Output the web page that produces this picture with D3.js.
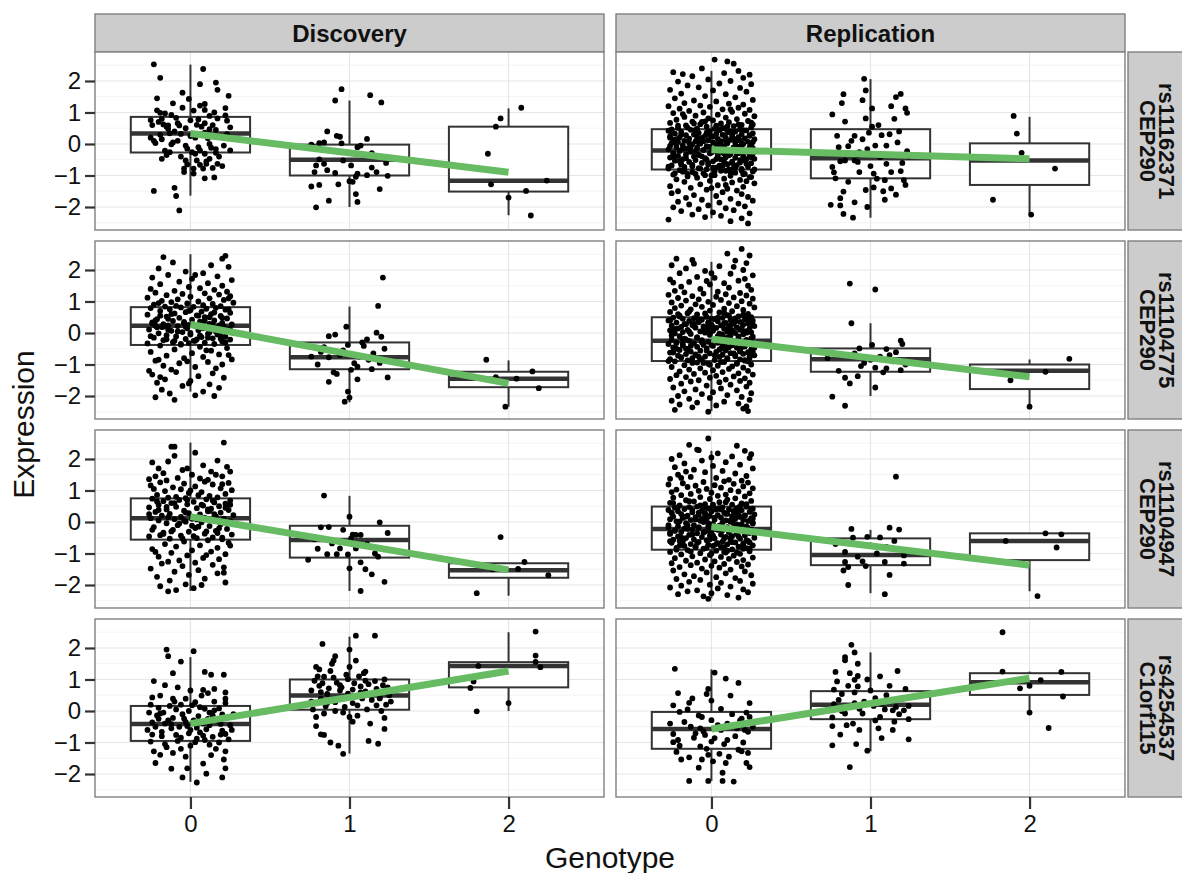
<!DOCTYPE html>
<html>
<head>
<meta charset="utf-8">
<script src="https://cdn.jsdelivr.net/npm/d3@7"></script>
<style>
  html, body { margin: 0; padding: 0; background: #fff; }
  svg { display: block; font-family: "Liberation Sans", Arial, Helvetica, sans-serif; }
</style>
</head>
<body>
<svg id="chart" width="1182" height="873"></svg>
<script>
// ----------
// data
var studies = ['Discovery', 'Replication'];
var snps = [['rs11162371', 'CEP290'], ['rs11104775', 'CEP290'], ['rs11104947', 'CEP290'], ['rs4254537', 'C1orf115']];
var genotypes = [0, 1, 2];
var yTicks = [-2, -1, 0, 1, 2];
var yMinor = [-2.5, -1.5, -0.5, 0.5, 1.5, 2.5];

// [lower whisker, q1, median, q3, upper whisker] for genotype 0, 1, 2, one row per snp
var boxDiscovery = [
  [[-1.64, -0.27, 0.33, 0.86, 2.52], [-2.0, -1.0, -0.5, -0.02, 1.38], [-2.26, -1.51, -1.17, 0.55, 1.13]],
  [[-1.86, -0.38, 0.23, 0.82, 2.5], [-2.2, -1.15, -0.77, -0.3, 0.84], [-2.34, -1.72, -1.45, -1.23, -0.87]],
  [[-2.19, -0.56, 0.12, 0.75, 2.52], [-2.19, -1.13, -0.57, -0.12, 0.83], [-2.34, -1.77, -1.53, -1.31, -1.31]],
  [[-2.25, -0.95, -0.41, 0.16, 1.71], [-1.35, 0.04, 0.49, 1.0, 2.36], [0.0, 0.75, 1.43, 1.55, 2.5]]
];
var boxReplication = [
  [[-2.36, -0.81, -0.21, 0.47, 2.32], [-2.34, -1.09, -0.45, 0.47, 2.06], [-2.22, -1.3, -0.52, 0.02, 0.86]],
  [[-2.48, -0.89, -0.25, 0.5, 2.26], [-2.0, -1.23, -0.83, -0.49, 0.31], [-2.34, -1.78, -1.2, -1.0, -0.84]],
  [[-2.42, -0.88, -0.22, 0.49, 2.26], [-2.26, -1.37, -1.05, -0.52, -0.25], [-2.2, -1.21, -0.6, -0.36, -0.36]],
  [[-2.22, -1.2, -0.57, -0.03, 1.32], [-1.28, -0.26, 0.2, 0.63, 1.86], [-0.05, 0.51, 0.91, 1.2, 1.25]]
];

// fitted expression at genotype 0 and genotype 2
var fitDiscovery = [[0.33, -0.9], [0.27, -1.6], [0.17, -1.52], [-0.4, 1.27]];
var fitReplication = [[-0.18, -0.47], [-0.19, -1.39], [-0.15, -1.37], [-0.57, 1.04]];

// jittered samples: flat pairs of (x offset, expression), both in hundredths
var ptsD1_0 = [-23,253, 8,238, -19,210, 16,195, 6,190, 17,172, 24,153, -5,163, -21,145, -1,143, -11,129, 6,122, 9,127, 22,114, -21,107, -19,99, -16,97, 2,106, 9,108, -12,92, -25,76, -18,80, -9,83, 12,89, 22,91, 5,78, 17,81, 23,74, 9,66, -14,59, -15,55, -7,59, 4,61, 25,53, 12,47, 16,45, -19,29, -13,34, -6,32, 9,36, 23,31, -23,10, -22,3, -12,-1, -3,-5, 5,-10, 12,0, 16,-16, -16,-21, -13,-26, 1,-26, 3,-31, 9,-31, -18,-47, -3,-52, 4,-52, 12,-47, 16,-28, -2,-65, 6,-66, 10,-63, 17,-63, -4,-78, 2,-78, 8,-78, 14,-76, -4,-89, 2,-94, 9,-109, 15,-106, -23,-149, -10,-139, -9,-165, -7,-211, -20,70, -17,62, -14,48, -10,40, -8,66, -3,50, 0,75, 3,20, 7,55, 11,18, 14,60, 19,22, 21,-5, -25,20, -18,15, -8,10, -2,-15, 6,-20, 13,-12, 18,-40, -15,-35, -6,-40, 10,-55, 20,-70, -11,5, 0,25, 15,100, -5,115, 25,-20, -24,60];
var ptsD1_1 = [-5,174, -9,138, 13,155, 20,132, -14,40, -8,26, -6,23, 11,16, -24,-2, -19,3, -16,5, -5,2, 5,-10, 7,-5, 14,-29, -19,-49, -16,-63, -21,-68, -14,-83, -22,-89, -9,-92, 5,-94, 14,-75, 23,-60, 24,-101, -7,-128, 0,-118, 2,-120, 4,-104, 11,-99, -24,-135, 19,-143, 4,-159, 5,-184, -13,-180, -21,-201, -4,-52, 9,-36, 1,-68, 17,-89, -19,-130];
var ptsD1_2 = [-5,81, -8,55, 8,115, -13,-31, -11,-128, 24,-116, 11,-149, 0,-170, 14,-227];

var ptsR1_0 = [2,268, 10,262, 14,255, -6,240, 17,232, -24,228, -18,222, 8,225, 24,220, -12,215, 20,210, -2,205, -21,198, 12,200, 5,192, 25,190, -15,186, -8,180, 18,178, -26,172, 1,170, 22,166, -19,160, 9,158, -4,152, 15,148, -23,145, 26,140, -11,138, 3,135, -17,130, 11,128, 20,125, -7,122, -27,120,
  -1,118, 17,115, -20,112, 7,110, 24,108, -14,105, 13,102, -5,100, -24,98, 21,96, 4,93, -10,90, 27,88, -17,86, 9,84, -2,81, 16,79, -22,77, 1,75, 23,73, -12,71, 11,69, -26,67, 6,65, -7,63, 19,61, -16,59, 14,57, -3,55, 25,53, -21,51, 8,50, -9,49, 2,48, 18,47, -25,46, 12,110, -18,95, 26,62, -4,72,
  -13,45, 5,44, 22,43, -27,42, -1,40, 15,39, -19,38, 10,37, -8,35, 26,34, -23,33, 3,32, 19,31, -11,30, 7,29, -16,28, 24,27, -4,26, 13,25, -26,24, 0,23, 17,22, -20,21, 9,20, -6,19, 21,18, -14,17, 4,16, 27,15, -24,14, 12,13, -2,12, 18,11, -17,10, 6,9, -10,8, 23,7, -21,6, 1,5, 15,4, -25,3, 10,2, -7,1, 20,0, -12,-1, 3,-2, 25,-3, -18,-4, 8,-6, -3,-7, 16,-8, -22,-10, 14,-11, -9,-12, 26,-13, -15,-14, 5,-15, -27,-17, 19,-18, -5,-19, 11,-20, -20,-22, 2,-23, 22,-24, -13,-25, 7,-27, -24,-28, 17,-29, -1,-30, 12,-32, -16,-33, 24,-34, -8,-35, 4,-37, -21,-38, 20,-39, -11,-40, 9,-42, -26,-43, 15,-44, -4,-45, 27,-47, -18,-48, 6,-49, -10,-51, 21,-52, -23,-53, 1,-55, 13,-56, -14,-57, 18,-59, -6,-60, 25,-61, -19,-63, 10,-64, -2,-65, 16,-67, -25,-68, 7,-69, -12,-71, 23,-72, -17,-73, 3,-75, 14,-76, -8,-77, -27,-78, 19,-79, -3,-80, 11,-81,
  -20,-83, 6,-85, 26,-87, -12,-89, 15,-91, -5,-93, 21,-95, -24,-97, 2,-99, 12,-101, -15,-103, 24,-105, -9,-107, 8,-110, -22,-112, 18,-114, -1,-117, -17,-120, 13,-122, 27,-125, -7,-128, 4,-131, -26,-134, 20,-136, -13,-139, 10,-142, -3,-145, 16,-148, -21,-150, 25,-105, -10,-95, 9,-130, -18,-88, 22,-118, 0,-140,
  7,-153, -25,-156, 19,-159, -11,-162, 3,-165, 23,-168, -16,-171, 12,-174, -6,-177, 26,-180, -21,-183, 5,-186, 17,-189, -14,-192, -2,-195, 21,-198, -24,-201, 9,-204, -8,-207, 14,-210, -19,-213, 1,-217, 24,-220, -12,-224, 6,-228, -4,-232, 19,-236, -27,-240, 12,-245, 23,-252,
  -15,52, 6,48, 20,44, -25,40, -3,36, 13,33, -19,30, 24,27, 1,24, -9,21, 17,18, -22,15, 9,12, -5,9, 26,6, -14,3, 4,0, 19,-3, -26,-6, -1,-9, 14,-12, -18,-15, 7,-18, 23,-21, -10,-24, 0,-27, 16,-30, -24,-33, 11,-36, -6,-39, 25,-42, -16,-45, 3,-48, 18,-51, -20,-54, 8,-57, -2,-60, 22,-63, -12,-66, 5,-69, -27,-72, 15,-75, -7,-78, 27,-81, -17,-84, 2,-87, 12,-90, -23,-93, 20,-96, -4,-99, 10,56, -21,58, 17,62, -11,65, 25,68, -6,70, 3,58, -24,-40, 22,-48, -13,-8, 8,-30, -8,5, 15,15, -19,-65, 1,-75, 24,-10, -26,20, 12,40, -3,-50, 19,-85, -15,-95, 6,-5, -10,45, 26,-30, -1,30, 13,-60, -22,0, 9,-85, 0,-100];
var ptsR1_1 = [-4,207, -17,158, -3,170, -5,139, 1,113, 16,149, 19,159, 22,113, 23,99, -24,94, -16,71, -3,81, 1,55, 7,28, 12,31, 17,5, -10,26, -14,-7, -2,-16, 3,-5, -16,-52, -10,-52, -8,-57, -19,-55, 6,-42, 14,-36, 23,-23, -24,-73, -22,-109, -7,-89, 2,-94, 13,-89, 19,-86, 21,-115, 9,-115, -17,-151, -3,-146, 2,-138, 13,-141, 16,-161, -25,-193, -19,-195, 9,-177, -11,-234, -17,-222, -19,-172, -1,36, -7,-26, 10,-63, -21,26, -12,10, 5,60, 15,80, -8,-35, 20,-60, -20,-10, 0,-70, 10,-5, -14,-120, 4,-110, 24,-40, -5,15, 18,40, -23,-90, 8,-150, -10,-185, 22,-130, -2,-200, 13,120, -18,130];
var ptsR1_2 = [-10,89, -8,33, -5,-28, 16,-78, -23,-177, 1,-224];

var ptsD2_0 = [-17,241, 22,245, 20,236, -11,224, 13,215, -20,205, 24,210, -3,195, 8,190, -14,184, 17,180, -24,176, 1,172, 26,168, -7,163, 11,158, -19,155, 20,150, -1,146, 6,142, -25,140, 15,137, -10,134, 23,131, 3,184,
  -22,128, 9,126, -5,124, 18,122, -15,120, 25,117, 0,115, -27,112, 12,110, -8,107, 21,105, -18,102, 5,100, -12,98, 27,96, -2,94, 14,92, -23,90, 8,88, -9,86, 19,85, -16,84, 2,83, 24,110, -20,95,
  -6,81, 16,80, -25,79, 10,77, -13,75, 22,74, 0,72, -19,70, 7,68, -3,66, 25,64, -10,62, 13,60, -27,58, 4,56, 19,54, -15,52, 9,50, -7,48, 23,46, -21,44, 1,42, 15,40, -11,38, 6,36, -24,34, 20,32, -4,31, 12,29, -17,28, 26,27, -1,26, 8,25, -14,24, 18,24, -22,23, 3,23,
  -8,22, 21,21, -18,19, 10,17, -2,15, 24,13, -26,11, 5,9, -12,7, 16,5, -5,3, 27,1, -20,-1, 11,-3, 0,-5, -15,-7, 19,-9, -9,-11, 7,-13, -23,-15, 14,-17, -3,-19, 25,-21, -17,-23, 2,-25, 20,-27, -11,-29, 9,-31, -27,-33, 15,-35, -6,-37, 22,-12, -21,18, 4,-20, -14,10, 12,2, -1,-32,
  -19,-40, 6,-44, 23,-48, -10,-52, 13,-56, -25,-60, 1,-64, 18,-68, -15,-72, 8,-76, -4,-80, 26,-84, -22,-88, 11,-92, -7,-96, 20,-100, -17,-104, 3,-108, 16,-112, -12,-116, -26,-120, 24,-70, -2,-90, 10,-55, -20,-85,
  -9,-124, 14,-128, -24,-132, 5,-137, 21,-142, -16,-147, 0,-152, -21,-158, 12,-163, -5,-168, 18,-174, -18,-180, 8,-186, -13,-192, 3,-198, -22,-204, -10,-212, 15,-200, -1,-160, -19,-140,
  -12,60, 5,55, 20,48, -22,40, -4,35, 14,28, -17,20, 8,15, 25,10, -8,5, 0,0, 17,-5, -25,-10, 11,-15, -15,-20, 3,-25, 22,-30, -6,-35, 9,40, -19,55, 15,65, -1,70, 24,75, -10,-25, 6,-8, -24,30, 12,50, -3,20, 19,-18, -14,45];
var ptsD2_1 = [21,176, 18,86, -2,20, -13,-10, -9,-5, 17,1, 20,-12, -1,-38, 9,-41, 22,-50, -24,-75, -13,-77, 3,-96, 5,-107, 1,-117, -10,-125, 24,-141, -13,-155, 5,-147, -1,-186, 0,-205, -3,-218, -18,-60, -6,-70, 12,-85, 15,-65, -20,-100, 8,-30, -16,-45, 14,-115, 6,-75, -8,-130, 19,-95, -4,-55, 11,-20];
var ptsD2_2 = [-14,-85, 15,-122, 19,-175, -2,-234, 5,-145, -8,-140];

var ptsR2_0 = [19,267, 10,252, 24,246, -22,236, -12,232, 15,230, 22,222, -25,215, 5,212, -16,205, 20,200, -4,197, -20,190, 12,188, 26,183, -9,178, 2,175, -26,170, 17,166, -14,162, 8,158, -1,154, 23,150, -19,147, 11,144, -7,140, 25,137, -23,134, 4,131, -11,220, 14,210, -24,160, 21,172, -3,165, 0,190,
  -17,129, 18,127, -5,125, 9,123, -27,121, 22,119, -12,117, 3,115, 14,113, -21,111, 26,109, -8,107, 6,105, -16,103, 19,101, -2,99, -25,97, 11,95, 24,93, -10,91, 1,89, -19,87, 16,85, -6,83, 27,81, -23,79, 8,77, -13,75, 20,73, -1,71, 13,69, -26,67, 5,65, -15,63, 23,61, -9,59, 10,57, -20,55, 17,53, -3,51,
  25,50, -24,49, 7,48, -11,47, 15,46, -18,45, 2,44, 21,43, -6,42, 12,41, -27,40, 26,39, -14,38, 4,37, 18,35, -8,34, -22,33, 9,32, 23,31, -2,30, 14,29, -16,28, 0,27, 20,26, -12,25, 6,24, -25,23, 27,22, -5,21, 11,20, -19,19, 16,18, -10,17, 3,16, 24,15, -21,14, 8,13, -3,12, 19,11, -15,10, 13,9, -26,8, 1,7, 22,6, -7,5, 10,4, -18,3, 25,2, -4,1, 15,0, -23,-1, 5,-2, -13,-3, 20,-4, -1,-6, 12,-8, -20,-10, 26,-12, -9,-14, 7,-16,
  -17,-18, 17,-19, 2,-20, -25,-21, 22,-22, -6,-23, 10,-24, -14,-25, 24,-26, -2,-28, 14,-29, -22,-30, 4,-31, 19,-32, -11,-33, -27,-35, 8,-36, 26,-37, -5,-38, 13,-39, -18,-40, 1,-41, 21,-43, -9,-44, 11,-45, -24,-46, 16,-47, -3,-49, 6,-50, -15,-51, 25,-52, -20,-54, 9,-55, -7,-56, 18,-57, -13,-59, 3,-60, 23,-61, -26,-62, 12,-64, -1,-65, 20,-66, -16,-67, 7,-69, -10,-70, 27,-71, -21,-72, 15,-74, -4,-75, 5,-76, -19,-78, 24,-79, -12,-80, 10,-82, -26,-83, 18,-84, -6,-85, 2,-86, -15,-87, 21,-88,
  -23,-90, 8,-92, -9,-94, 16,-96, -2,-98, 25,-100, -17,-102, 4,-104, 13,-106, -25,-108, 20,-110, -7,-112, 11,-114, -14,-116, 1,-118, 23,-120, -20,-122, 7,-124, -4,-126, 17,-128, -11,-130, 26,-132, -22,-134, 3,-136, 14,-138, -16,-140, -1,-142, 21,-144, -26,-146, 9,-148, -8,-150, 18,-152, -13,-154, 5,-156, 24,-158,
  -19,-161, 12,-164, -3,-167, 22,-170, -24,-173, 6,-176, -10,-179, 16,-182, -17,-185, 1,-188, 25,-191, -6,-194, 10,-197, -21,-200, 19,-203, -1,-206, -14,-209, 24,-212, -25,-215, 8,-218, -9,-221, 17,-224, -20,-227, 3,-230, 22,-233, -12,-236, 20,-240, -23,-244, 23,-248, -2,-250,
  11,55, -20,52, 4,49, 23,46, -8,43, -26,40, 15,37, -2,34, 8,31, -17,28, 26,25, -11,22, 1,19, 19,16, -23,13, -5,10, 12,7, -14,4, 22,1, -1,-2, 7,-5, -25,-8, 17,-11, -9,-14, 25,-17, -18,-20, 3,-23, 13,-26, -6,-29, -22,-32, 20,-35, 0,-38, -13,-41, 9,-44, 27,-47, -16,-50, 5,-53, -3,-56, 18,-59, -24,-62, 14,-65, -10,-68, 2,-71, 24,-74, -19,-77, 10,-80, -7,-83, 21,-86, -27,-89, 6,-92, -12,-95, 16,-98, -1,-101, -21,60, 8,64, -14,68, 20,58, -4,62, 26,-60, -16,-20, 4,-10, 12,25, -8,-75, 18,10, -22,-50, 0,45, 23,-90, -11,30, 7,-40, -25,5, 15,-70, -5,-95, 25,40, -18,-35, 10,-15, -2,15, 19,-45];
var ptsR2_1 = [-13,157, 3,138, -12,31, 19,-24, 20,-35, 16,-61, 1,-38, -7,-49, 10,-51, 3,-110, 10,-112, 19,-118, 8,-125, -16,-142, -8,-137, -13,-160, 3,-173, -24,-202, -16,-231, -27,-80, 6,-75, 14,-90, -4,-95, -10,-65, 22,-100, -20,-120, 12,-70, 0,-85, -6,-105];
var ptsR2_2 = [25,-82, 10,-123, 0,-234, -12,-150];

var ptsD3_0 = [21,252, -12,239, -10,239, -24,189, -14,192, -10,210, 3,220, 17,195, 8,180, -20,170, 23,175, -5,165, 13,160, -17,155, 1,150, 20,145, -8,140, -26,136, 11,134, -2,170, 16,150, -22,145, 25,160, 6,138, -15,132,
  9,128, -19,126, 24,124, -4,122, 14,119, -25,116, 3,113, -11,110, 19,107, -6,104, 26,101, -16,98, 7,95, -1,92, 22,89, -21,86, 12,83, -9,80, 17,78, -14,77, 0,100, -23,105, 5,85, 20,120, -3,76,
  -24,74, 10,72, -7,70, 25,68, -17,66, 2,64, 15,62, -12,60, 22,58, -2,56, -20,54, 8,52, 18,50, -9,48, -26,46, 4,44, 13,42, -15,40, 24,38, -4,36, 11,34, -22,32, 19,30, -1,28, -13,26, 6,24, 27,22, -18,20, 16,18, -6,16, 9,14, -25,12, 21,11, 1,10, -10,9, 14,7, -20,5, 25,3, -3,1, 7,-1, -15,-4, 19,-7, -8,-10, 12,-13, -23,-16, 3,-19, 23,-22, -11,-25, 16,-28, -1,-31, -17,-34, 9,-37, 26,-40, -6,-43, -26,-46, 14,-49, 4,-51, -13,-53, 20,-55, -19,-42,
  11,-58, -4,-62, 24,-66, -16,-70, 6,-74, -9,-78, 17,-82, -24,-86, 1,-90, 13,-94, -12,-98, 22,-102, -2,-106, -20,-110, 8,-114, 18,-118, -7,-122, -14,-126, 3,-129, 25,-75, -22,-95, 10,-105,
  -18,-132, 14,-136, -5,-140, 21,-144, -25,-148, 5,-153, -10,-158, 17,-163, -1,-168, -21,-174, 9,-180, -13,-186, 22,-192, -3,-198, -19,-204, 2,-210, -9,-216, -14,-220, 7,-200, 21,-161,
  -10,60, 7,55, 22,45, -20,38, -3,30, 15,25, -14,15, 4,8, 24,0, -7,-5, 1,-12, 18,-20, -24,-25, 10,-30, -17,-38, 2,-45, 20,-50, -5,-52, 11,40, -21,65, 14,68, -2,70, 25,55, -12,-30, 5,-15, -26,25, 12,35, -4,5, 17,-35, -15,48];
var ptsD3_1 = [-16,84, 0,17, -18,-17, -13,-16, 19,-1, 4,-41, 7,-41, 1,-52, -11,-68, -6,-84, 4,-84, 16,-100, 18,-110, -26,-120, -14,-102, -8,-102, 0,-147, 7,-128, 14,-166, 22,-190, 7,-219, -1,-103, 2,-40, -22,-55, 11,-70, -4,-25, 24,-35, -20,-85, 10,-150];
var ptsD3_2 = [-5,-48, 10,-127, 6,-149, 25,-169, -20,-226, -10,-150];

var ptsR3_0 = [-2,265, -14,245, 16,242, -9,230, 21,226, 4,218, -20,212, 13,208, -25,200, 24,203, -6,195, 9,190, -17,186, 18,182, 1,178, -23,174, 26,170, -11,166, 7,162, -4,158, 15,154, -21,150, 22,146, -13,143, 3,140, -26,137, 11,134, 19,131, -8,228, -16,160, 25,215, 0,205, -19,140,
  8,129, -5,127, 23,125, -18,123, 14,121, -27,119, 2,117, -10,115, 20,113, -15,111, 6,109, 26,107, -3,105, -22,103, 12,101, -8,99, 17,97, -25,95, 0,93, 24,91, -13,89, 9,87, -19,85, 4,83, 21,81, -7,79, -24,77, 15,75, -1,73, 10,71, -16,69, 25,67, -11,65, 5,63, -26,61, 19,59, -4,57, 13,55, -20,53, 1,51,
  -9,49, 22,48, -14,47, 7,46, -23,45, 16,44, -2,43, 26,42, -17,41, 11,40, 3,39, -27,38, 19,37, -6,36, 14,35, -21,34, 0,33, 24,32, -12,31, 8,30, -25,29, 17,28, -4,27, 10,26, -19,25, 27,24, -8,23, 4,22, 21,21, -15,20, -1,19, 13,18, -24,17, 18,16, -10,15, 6,14, -18,13, 25,12, -3,11, 15,10, -26,9, 2,8, 20,7, -13,6, 9,5, -7,4, 23,3, -22,2, 12,1, -5,0, 26,-2, -16,-4, 1,-6, 16,-8, -11,-10,
  5,-12, -21,-13, 22,-14, -2,-15, 10,-16, -27,-17, 18,-18, -8,-19, 14,-20, -17,-21, 3,-22, 25,-24, -12,-25, 7,-26, -23,-27, 20,-28, -4,-30, 11,-31, -19,-32, 0,-33, 24,-35, -9,-36, 16,-37, -26,-38, 6,-40, -14,-41, 21,-42, -1,-43, 13,-45, -21,-46, 9,-47, -6,-48, 27,-50, -16,-51, 2,-52, 18,-53, -11,-55, -24,-56, 12,-57, -3,-58, 23,-60, -18,-61, 7,-62, -8,-63, 15,-65, -25,-66, 4,-67, 20,-68, -13,-70, 10,-71, -2,-72, 26,-74, -20,-75, 1,-76, 17,-78, -10,-79, 8,-80, -22,-82, 22,-83, -5,-85,
  13,-87, -15,-89, 3,-91, 24,-93, -26,-95, 9,-97, -7,-99, 18,-101, -19,-103, -1,-105, 14,-107, -12,-109, 6,-111, 26,-113, -23,-115, 11,-117, -4,-119, 20,-121, -16,-123, 2,-125, 16,-127, -9,-129, -25,-131, 8,-133, 23,-135, -13,-137, 0,-139, 19,-141, -20,-143, 5,-145, -6,-148, 12,-151,
  -24,-154, 21,-157, -3,-160, 9,-163, -17,-166, 25,-169, -11,-172, 3,-175, 15,-178, -22,-181, -7,-184, 18,-187, -14,-190, 6,-193, 26,-196, -1,-199, -19,-202, 12,-205, -26,-208, 4,-211, 20,-214, -9,-217, -15,-220, 23,-223, 0,-226, -21,-229, 10,-232, -5,-236, 17,-240, -2,-244,
  -7,53, 18,50, -21,47, 5,44, 25,41, -12,38, 0,35, 14,32, -25,29, 9,26, -4,23, 21,20, -16,17, 2,14, 26,11, -10,8, 12,5, -20,2, 7,-1, -2,-4, 19,-7, -27,-10, 15,-13, -8,-16, 23,-19, -15,-22, 4,-25, -23,-28, 11,-31, -5,-34, 27,-37, -12,-40, 1,-43, 17,-46, -19,-49, 8,-52, -1,-55, 22,-58, -26,-61, 13,-64, -9,-67, 3,-70, 20,-73, -17,-76, 6,-79, -3,-82, 24,-85, -22,-88, 10,-91, -13,-94, 16,-97, 0,-100, -24,60, 9,63, 22,57, -14,66, 3,-20, -6,10, 16,25, -20,-60, 26,-5, -10,-80, 6,40, -1,-30, 12,-50, -18,15, 20,-85, -26,-35, 1,55, 14,-5, -8,30, 24,-65, -15,-10, 8,-95, -4,45, 18,-25];
var ptsR3_1 = [16,144, -12,-22, 12,-18, 18,-24, 6,-49, -2,-47, -11,-50, 10,-79, 0,-74, -16,-95, -16,-127, -5,-125, 9,-127, 21,-132, 21,-106, -14,-143, -17,-154, 12,-168, -14,-200, 9,-229, -8,-110, 4,-100, -22,-70, 15,-60, -3,-140];
var ptsR3_2 = [10,-36, 20,-39, 17,-81, 5,-235, -15,-60];

var ptsD4_0 = [-15,195, 2,190, -14,174, -6,157, -11,120, 9,124, 13,115, 21,115, -23,95, -16,82, -8,75, 0,65, 8,67, 15,70, 22,59, -24,43, -19,49, -11,39, -3,39, 7,49, 11,57, 22,39, -13,16, -6,20, 1,18, 9,7, 15,2, -21,-14, -11,-22, -4,-24, 5,-16, 14,-14, 20,-11, -24,-36, -16,-40, -7,-50, 4,-53, 12,-45, 19,-41, -18,-66, -9,-76, -1,-71, 8,-78, 22,-73, -25,-97, -16,-105, -6,-120, 3,-99, 12,-107, -23,-128, -11,-133, 8,-167, 21,-154, 22,-128, -22,-165, -19,-139, -12,-183, -2,-182, 10,-199, -5,-211, 4,-227, 20,-211, 22,-182,
  -20,10, -17,-5, -9,5, -1,0, 6,12, 12,-5, 18,8, 24,-20, -26,-5, -14,-30, -3,-35, 2,-30, 8,-40, 17,-30, 25,-45, -22,-50, -12,-55, 0,-60, 10,-58, 20,-62, -18,-80, -6,-85, 4,-88, 14,-82, 24,-90, -24,-75, -8,-95, 9,-92, 18,-100, -15,-115, 0,-110, 16,-120, -3,-145, 13,-140, -20,-25, -5,-10, 22,25, -10,30, 3,28, 15,30, -25,20, 19,-75, -12,-42, 6,-68, 26,-60, -19,-8, 11,-25, -2,-48, 27,-10, -27,-60];
var ptsD4_1 = [-17,213, 4,239, 16,239, 0,195, -9,174, -10,160, -19,132, -12,127, -10,106, -16,109, -22,96, -19,80, -6,82, -1,101, 10,125, 10,96, 21,82, -24,65, -14,54, -6,65, 2,68, 7,59, 15,54, 19,42, -18,39, -9,28, -3,13, 5,18, 17,18, 23,20, -21,-19, -16,-8, 0,-19, 2,-34, 22,-22, -21,-48, -18,-74, -16,-76, -12,-100, -7,-110, -4,-136, 12,-95, 18,-104, 22,-57,
  -20,110, -8,90, 3,88, 12,85, 22,100, -24,30, -13,72, -3,45, 8,40, 17,70, -18,60, -5,75, 6,110, 14,35, 25,50, -11,150, 0,140, 9,120, -21,140, -6,40, 2,25, 11,5, 20,0, -15,15, -9,0, -1,55, 7,78, 16,95, 24,75, -23,5, 13,-40, -4,-5, 5,-15, 19,40, -14,25, -2,115, 10,62, -17,88, 26,30, 4,160];
var ptsD4_2 = [17,252, 17,176, 17,156, 20,139, -19,143, -22,94, -24,73, -20,-1, 0,25];

var ptsR4_0 = [-23,134, 2,122, 9,103, 17,89, -2,70, -21,57, -3,54, 12,49, -14,26, -24,18, 0,33, 6,7, 24,25, -8,-14, -6,-19, -20,-3, 0,-29, -13,-50, 19,-24, 24,-19, 10,-40, 6,-60, -7,-55, 21,-60, 23,-66, -21,-92, -24,-99, -7,-112, 0,-97, 10,-92, 17,-123, 19,-128, 23,-133, -19,-154, -14,-147, -6,-154, -2,-139, 5,-136, 9,-165, 22,-165, 24,-178, -2,-222, 7,-196, -14,-222, 7,-222, 14,-224, -24,-73, -10,-71, -4,-76, 2,-86, 16,-55,
  -17,-35, -11,-85, 4,-45, 13,-10, -26,-40, 20,-100, -3,-120, 11,-145, -22,-130, -8,-180, 15,-80, 26,-50, -15,5, 8,-105, -5,-65, 18,-30, -20,-110, 1,-160, 22,-5, -12,40];
var ptsR4_1 = [-12,210, -10,186, -16,171, -16,161, -8,150, -22,124, -13,120, -8,111, -10,99, 17,127, -21,94, -8,78, -23,68, -18,54, -10,59, 3,41, 2,16, 7,23, 16,13, 24,16, -23,22, -13,13, -7,7, 14,2, 21,2, -16,-8, -5,-8, 6,-19, 15,-34, 24,-26, -24,-48, -15,-45, -11,-40, 5,-55, 7,-86, -9,-105, -2,-126, -24,-109, -13,-178,
  -20,35, -4,30, 10,50, 20,40, -14,80, 0,65, 12,80, -24,-20, 3,-30, 18,-10, -7,-60, 9,5, -18,0, 22,70, -2,100, 14,-60, -10,25, 6,110, -19,-75, 24,-90];
var ptsR4_2 = [-17,250, -17,125, 7,98, 20,124, 21,46, -6,72, 0,80, 0,-5, 12,-54];

var pointsDiscovery = [[ptsD1_0, ptsD1_1, ptsD1_2], [ptsD2_0, ptsD2_1, ptsD2_2], [ptsD3_0, ptsD3_1, ptsD3_2], [ptsD4_0, ptsD4_1, ptsD4_2]];
var pointsReplication = [[ptsR1_0, ptsR1_1, ptsR1_2], [ptsR2_0, ptsR2_1, ptsR2_2], [ptsR3_0, ptsR3_1, ptsR3_2], [ptsR4_0, ptsR4_1, ptsR4_2]];

// ----------
var boxes = { Discovery: boxDiscovery, Replication: boxReplication };
var fits = { Discovery: fitDiscovery, Replication: fitReplication };
var points = { Discovery: pointsDiscovery, Replication: pointsReplication };

var svg = d3.select('#chart');
var panelLeft = [95, 616];
var panelTop = [52, 241, 430, 619];
var panelW = 509;
var panelH = 178;
var stripH = 38;
var fontFamily = '"Liberation Sans", Arial, Helvetica, sans-serif';

var x = d3.scaleLinear().domain([-0.6, 2.6]).range([0, panelW]);
var y = d3.scaleLinear().domain([-2.73, 2.92]).range([panelH, 0]);
var boxHalf = 0.375;

function minusFormat(d) {
  return d < 0 ? '\u2212' + Math.abs(d) : String(d);
}

function unpack(flat, g) {
  var out = [];
  for (var i = 0; i < flat.length; i += 2) {
    out.push({ g: g + flat[i] / 100, v: flat[i + 1] / 100 });
  }
  return out;
}

// ----------
// top strips
studies.forEach(function(study, c) {
  var strip = svg.append('g')
    .attr('transform', 'translate(' + panelLeft[c] + ',' + (panelTop[0] - stripH) + ')');
  strip.append('rect')
    .attr('width', panelW)
    .attr('height', stripH)
    .attr('fill', '#cccccc')
    .attr('stroke', '#808080')
    .attr('stroke-width', 1.4);
  strip.append('text')
    .attr('x', panelW / 2)
    .attr('y', stripH / 2)
    .attr('dy', '0.36em')
    .attr('text-anchor', 'middle')
    .attr('font-weight', 'bold')
    .attr('font-size', 24)
    .attr('fill', '#111')
    .text(study);
});

// right strips, two lines reading downwards
snps.forEach(function(snp, r) {
  var strip = svg.append('g')
    .attr('transform', 'translate(1128,' + panelTop[r] + ')');
  strip.append('rect')
    .attr('width', 70)
    .attr('height', panelH)
    .attr('fill', '#cccccc')
    .attr('stroke', '#808080')
    .attr('stroke-width', 1.4);
  [39, 20].forEach(function(off, i) {
    strip.append('text')
      .attr('transform', 'translate(' + off + ',' + (panelH / 2) + ') rotate(90)')
      .attr('dy', '0.36em')
      .attr('text-anchor', 'middle')
      .attr('font-weight', 'bold')
      .attr('font-size', 22)
      .attr('fill', '#111')
      .text(snp[i]);
  });
});

// ----------
// panels
studies.forEach(function(study, c) {
  snps.forEach(function(snp, r) {
    var g = svg.append('g')
      .attr('transform', 'translate(' + panelLeft[c] + ',' + panelTop[r] + ')');

    g.append('rect')
      .attr('width', panelW)
      .attr('height', panelH)
      .attr('fill', '#ffffff');

    g.selectAll('line.minor').data(yMinor).enter().append('line')
      .attr('x1', 0).attr('x2', panelW)
      .attr('y1', function(d) { return y(d); })
      .attr('y2', function(d) { return y(d); })
      .attr('stroke', '#f4f4f4')
      .attr('stroke-width', 1);

    g.selectAll('line.major').data(yTicks).enter().append('line')
      .attr('x1', 0).attr('x2', panelW)
      .attr('y1', function(d) { return y(d); })
      .attr('y2', function(d) { return y(d); })
      .attr('stroke', '#e6e6e6')
      .attr('stroke-width', 1.2);

    g.selectAll('line.vmajor').data(genotypes).enter().append('line')
      .attr('x1', function(d) { return x(d); })
      .attr('x2', function(d) { return x(d); })
      .attr('y1', 0).attr('y2', panelH)
      .attr('stroke', '#e6e6e6')
      .attr('stroke-width', 1.2);

    // boxplots
    var stats = boxes[study][r];
    var bp = g.selectAll('g.box').data(stats).enter().append('g');
    bp.append('line')
      .attr('x1', function(d, i) { return x(i); })
      .attr('x2', function(d, i) { return x(i); })
      .attr('y1', function(d) { return y(d[4]); })
      .attr('y2', function(d) { return y(d[0]); })
      .attr('stroke', '#333')
      .attr('stroke-width', 2);
    bp.append('rect')
      .attr('x', function(d, i) { return x(i - boxHalf); })
      .attr('width', x(2 * boxHalf) - x(0))
      .attr('y', function(d) { return y(d[3]); })
      .attr('height', function(d) { return y(d[1]) - y(d[3]); })
      .attr('fill', '#fff')
      .attr('stroke', '#333')
      .attr('stroke-width', 2);
    bp.append('line')
      .attr('x1', function(d, i) { return x(i - boxHalf); })
      .attr('x2', function(d, i) { return x(i + boxHalf); })
      .attr('y1', function(d) { return y(d[2]); })
      .attr('y2', function(d) { return y(d[2]); })
      .attr('stroke', '#333')
      .attr('stroke-width', 4.5);

    // jittered samples
    var pts = [];
    points[study][r].forEach(function(flat, gi) {
      pts = pts.concat(unpack(flat, gi));
    });
    g.selectAll('circle').data(pts).enter().append('circle')
      .attr('cx', function(d) { return x(d.g); })
      .attr('cy', function(d) { return y(d.v); })
      .attr('r', 2.9)
      .attr('fill', '#000');

    // fitted trend
    var fit = fits[study][r];
    g.append('line')
      .attr('x1', x(0)).attr('y1', y(fit[0]))
      .attr('x2', x(2)).attr('y2', y(fit[1]))
      .attr('stroke', '#66bb63')
      .attr('stroke-width', 7);

    g.append('rect')
      .attr('width', panelW)
      .attr('height', panelH)
      .attr('fill', 'none')
      .attr('stroke', '#808080')
      .attr('stroke-width', 1.4);

    // y axis on the left column
    if (c === 0) {
      var ya = g.append('g')
        .call(d3.axisLeft(y).tickValues(yTicks).tickFormat(minusFormat).tickSize(10).tickPadding(4));
      ya.select('.domain').remove();
      ya.selectAll('line').attr('stroke', '#333').attr('stroke-width', 2.2);
      ya.selectAll('text')
        .attr('font-size', 24)
        .attr('font-family', fontFamily)
        .attr('fill', '#111');
    }

    // x axis on the bottom row
    if (r === snps.length - 1) {
      var xa = g.append('g')
        .attr('transform', 'translate(0,' + panelH + ')')
        .call(d3.axisBottom(x).tickValues(genotypes).tickFormat(d3.format('d')).tickSize(12).tickPadding(6));
      xa.select('.domain').remove();
      xa.selectAll('line').attr('stroke', '#333').attr('stroke-width', 2.2);
      xa.selectAll('text')
        .attr('font-size', 24)
        .attr('font-family', fontFamily)
        .attr('fill', '#111');
    }
  });
});

// ----------
// axis titles
svg.append('text')
  .attr('x', (panelLeft[0] + panelLeft[1] + panelW) / 2)
  .attr('y', 868)
  .attr('text-anchor', 'middle')
  .attr('font-size', 30)
  .attr('fill', '#111')
  .text('Genotype');

var ty = (panelTop[0] + panelTop[3] + panelH) / 2;
svg.append('text')
  .attr('transform', 'translate(34,' + ty + ') rotate(-90)')
  .attr('text-anchor', 'middle')
  .attr('font-size', 30)
  .attr('fill', '#111')
  .text('Expression');
</script>
</body>
</html>
